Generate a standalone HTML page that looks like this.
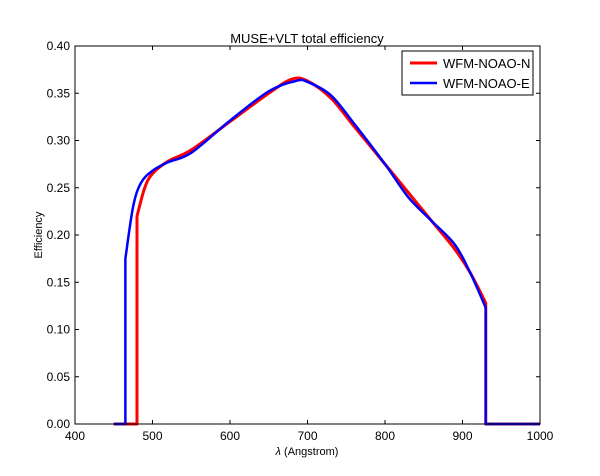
<!DOCTYPE html>
<html><head><meta charset="utf-8"><style>
body{margin:0;background:#fff;}
svg text{font-family:"Liberation Sans","DejaVu Sans",sans-serif;fill:#000;}
</style></head><body>
<svg id="chart" width="600" height="471">
<rect x="0" y="0" width="600" height="471" fill="#fff"/>
<g id="marks"></g>
<g id="axes"></g>
</svg>
<script>
const xTicks=[400,500,600,700,800,900,1000];
const yTicks=[0.00,0.05,0.10,0.15,0.20,0.25,0.30,0.35,0.40];
const redX=[480,490,500,520,550,600,650,680,700,730,760,800,830,860,890,910,930];
const redY=[0.22,0.25,0.265,0.278,0.29,0.32,0.35,0.365,0.363,0.345,0.315,0.275,0.245,0.215,0.185,0.16,0.128];
const blueX=[465,475,485,500,520,550,600,650,685,700,730,760,800,830,860,890,910,930];
const blueY=[0.175,0.23,0.255,0.268,0.277,0.287,0.321,0.352,0.363,0.362,0.348,0.318,0.275,0.24,0.215,0.19,0.16,0.123];
const L=75,R=540,T=46,B=424;
const sx=v=>L+(v-400)/600*(R-L);
const sy=v=>B-v/0.4*(B-T);
const NS="http://www.w3.org/2000/svg";
const marks=document.getElementById('marks'),axes=document.getElementById('axes');
function mk(tag,attrs,parent){const e=document.createElementNS(NS,tag);for(const k in attrs)e.setAttribute(k,attrs[k]);parent.appendChild(e);return e;}
function smooth(xs,ys){
  const p=xs.map((x,i)=>[sx(x),sy(ys[i])]);
  let d=`M${p[0][0]},${p[0][1]}`;
  for(let i=0;i<p.length-1;i++){
    const p0=p[i-1]||p[i],p1=p[i],p2=p[i+1],p3=p[i+2]||p2;
    const c1=[p1[0]+(p2[0]-p0[0])/6,p1[1]+(p2[1]-p0[1])/6];
    const c2=[p2[0]-(p3[0]-p1[0])/6,p2[1]-(p3[1]-p1[1])/6];
    d+=` C${c1[0]},${c1[1]} ${c2[0]},${c2[1]} ${p2[0]},${p2[1]}`;
  }
  return d;
}
function series(xs,ys,color,w,name){
  const last=xs.length-1;
  let d=`M${sx(450)},${sy(0)} L${sx(xs[0])},${sy(0)} L${sx(xs[0])},${sy(ys[0])}`;
  d+=smooth(xs,ys).replace(/^M[^C]*/,' ');
  d+=` L${sx(xs[last])},${sy(0)} L${sx(1000)},${sy(0)}`;
  const el=mk('path',{d:d,fill:'none',stroke:color,'stroke-width':w,'stroke-linejoin':'round'},marks);
  
  
}
series(redX,redY,'#ff0000',3,'series-wfm-noao-n');
series(blueX,blueY,'#0000ff',2.5,'series-wfm-noao-e');
const frame=mk('rect',{x:L,y:T,width:R-L,height:B-T,fill:'none',stroke:'#000','stroke-width':1},axes);


xTicks.forEach(v=>{
  const x=sx(v);
  mk('line',{x1:x,y1:B,x2:x,y2:B-4,stroke:'#000'},axes);
  mk('line',{x1:x,y1:T,x2:x,y2:T+4,stroke:'#000'},axes);
  const t=mk('text',{x:x,y:B+16,'text-anchor':'middle','font-size':12},axes);
  t.textContent=v;
  
  
});
yTicks.forEach(v=>{
  const y=sy(v);
  mk('line',{x1:L,y1:y,x2:L+4,y2:y,stroke:'#000'},axes);
  mk('line',{x1:R,y1:y,x2:R-4,y2:y,stroke:'#000'},axes);
  const t=mk('text',{x:L-5,y:y+4,'text-anchor':'end','font-size':12},axes);
  t.textContent=v.toFixed(2);
  
  
});
</script>
<svg width="600" height="471" style="position:absolute;left:0;top:0">
<text x="307" y="43" text-anchor="middle" font-size="13">MUSE+VLT total efficiency</text>
<text x="307" y="455" text-anchor="middle" font-size="11"><tspan font-style="italic">λ</tspan> (Angstrom)</text>
<text x="42" y="235" text-anchor="middle" font-size="11" transform="rotate(-90 42 235)">Efficiency</text>
<g>
<rect x="402" y="51" width="131" height="44" fill="#fff" stroke="#000" stroke-width="1"/>
<line x1="410" y1="63" x2="437" y2="63" stroke="#ff0000" stroke-width="3"/>
<text x="443" y="68" font-size="13">WFM-NOAO-N</text>
<line x1="410" y1="83" x2="437" y2="83" stroke="#0000ff" stroke-width="2.5"/>
<text x="443" y="88" font-size="13">WFM-NOAO-E</text>
</g>
</svg>
</body></html>
